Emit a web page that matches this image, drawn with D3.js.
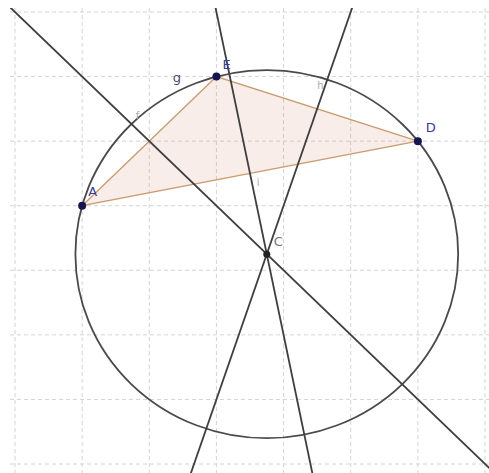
<!DOCTYPE html>
<html>
<head>
<meta charset="utf-8">
<script src="https://cdn.jsdelivr.net/npm/d3@7"></script>
<style>
  body { margin: 0; background: #fff; }
  text { font-family: "DejaVu Sans", sans-serif; }
</style>
</head>
<body>
<div id="chart"></div>
<script>
const width = 489;
const height = 473;

// grid ticks (units)
const gridTicks = [0, 1, 2, 3, 4, 5, 6, 7];

// triangle vertices (grid units, y pointing down)
const pointNames = ["A", "E", "D"];
const pointX = [1, 3, 6];
const pointY = [3, 1, 2];

// circumcentre and radius
const centerName = "C";
const centerX = 3.75;
const centerY = 3.75;
const radius = Math.sqrt(8.125);

// small object labels
const smallLabels = ["g", "f", "h", "i"];
const smallLabelX = [2.35, 1.8, 4.5, 3.6];
const smallLabelY = [1.08, 1.65, 1.2, 2.7];

const x = d3.scaleLinear().domain([0, 7]).range([15, 485]);
const y = d3.scaleLinear().domain([0, 7]).range([12, 464]);

const svg = d3.select("#chart")
    .append("svg")
    .attr("width", width)
    .attr("height", height);

svg.append("defs").append("clipPath")
    .attr("id", "clip")
    .append("rect")
    .attr("x", 10).attr("y", 8)
    .attr("width", 479).attr("height", 465);

const plot = svg.append("g").attr("clip-path", "url(#clip)");

// dashed grid
plot.selectAll(".vgrid")
    .data(gridTicks)
    .join("line")
    .attr("x1", d => x(d)).attr("x2", d => x(d))
    .attr("y1", 8).attr("y2", height)
    .attr("stroke", "#d4d4d4")
    .attr("stroke-width", 1)
    .attr("stroke-dasharray", "4,3");

plot.selectAll(".hgrid")
    .data(gridTicks)
    .join("line")
    .attr("y1", d => y(d)).attr("y2", d => y(d))
    .attr("x1", 10).attr("x2", width)
    .attr("stroke", "#d4d4d4")
    .attr("stroke-width", 1)
    .attr("stroke-dasharray", "4,3");

const pts = pointNames.map((n, i) => ({name: n, x: pointX[i], y: pointY[i]}));

// triangle
plot.append("path")
    .attr("d", "M" + pts.map(p => x(p.x) + "," + y(p.y)).join("L") + "Z")
    .attr("fill", "rgba(214, 140, 110, 0.16)")
    .attr("stroke", "#c99c70")
    .attr("stroke-width", 1.4);

// circle
plot.append("ellipse")
    .attr("cx", x(centerX)).attr("cy", y(centerY))
    .attr("rx", x(centerX + radius) - x(centerX))
    .attr("ry", y(centerY + radius) - y(centerY))
    .attr("fill", "none")
    .attr("stroke", "#4a4a4a")
    .attr("stroke-width", 1.8);

// perpendicular bisectors of each side, through C
const sides = [[0, 1], [1, 2], [0, 2]];
sides.forEach(([i, j]) => {
    const dx = pts[j].x - pts[i].x;
    const dy = pts[j].y - pts[i].y;
    const px = -dy, py = dx;
    const t = 20;
    plot.append("line")
        .attr("x1", x(centerX - px * t)).attr("y1", y(centerY - py * t))
        .attr("x2", x(centerX + px * t)).attr("y2", y(centerY + py * t))
        .attr("stroke", "#3f3f3f")
        .attr("stroke-width", 1.8);
});

// small labels
svg.selectAll(".slabel")
    .data(smallLabels)
    .join("text")
    .attr("x", (d, i) => x(smallLabelX[i]))
    .attr("y", (d, i) => y(smallLabelY[i]))
    .attr("font-size", (d, i) => i === 0 ? 13 : 10)
    .attr("fill", (d, i) => i === 0 ? "#4a4a66" : "#aaa")
    .text(d => d);

// points
const allPts = pts.concat([{name: centerName, x: centerX, y: centerY}]);
svg.selectAll(".pt")
    .data(allPts)
    .join("circle")
    .attr("cx", d => x(d.x)).attr("cy", d => y(d.y))
    .attr("r", d => d.name === "C" ? 3.5 : 4)
    .attr("fill", d => d.name === "C" ? "#222" : "#151550");

const labelOffset = {A: [6, -10], E: [6, -8], D: [8, -9], C: [7, -8]};
svg.selectAll(".plabel")
    .data(allPts)
    .join("text")
    .attr("x", d => x(d.x) + labelOffset[d.name][0])
    .attr("y", d => y(d.y) + labelOffset[d.name][1])
    .attr("font-size", 13)
    .attr("fill", d => d.name === "C" ? "#777" : "#3a3a99")
    .text(d => d.name);
</script>
</body>
</html>
